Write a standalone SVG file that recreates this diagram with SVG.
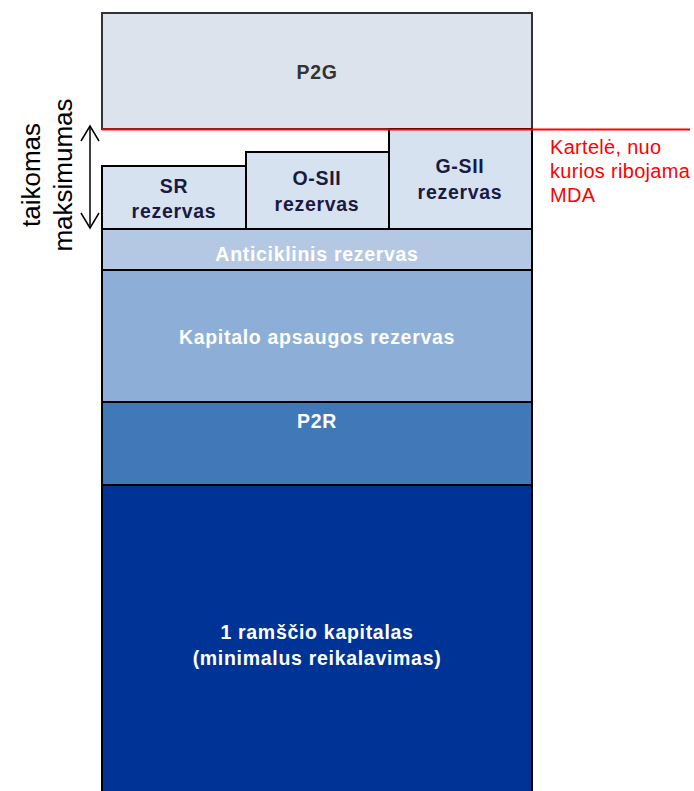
<svg xmlns="http://www.w3.org/2000/svg" width="694" height="791" viewBox="0 0 694 791">
<style>
.b{stroke:#000;stroke-width:2}
.t{font-family:"Liberation Sans",Arial,sans-serif;font-weight:bold;font-size:19.5px;letter-spacing:0.7px;text-anchor:middle}
.d{fill:#1a1a40}
.w{fill:#fff}
.r{font-family:"Liberation Sans",Arial,sans-serif;font-size:20px;letter-spacing:0.3px;fill:#ff0000}
.v{font-family:"Liberation Sans",Arial,sans-serif;font-size:26px;fill:#000;text-anchor:middle}
</style>
<defs>
<marker id="ah" viewBox="0 0 20 20" refX="18" refY="10" markerWidth="20" markerHeight="20" markerUnits="userSpaceOnUse" orient="auto-start-reverse">
<path d="M3,1 L18,10 L3,19" fill="none" stroke="#000" stroke-width="1.5"/>
</marker>
</defs>
<rect width="694" height="791" fill="#fff"/>
<g id="p2g"><rect x="102" y="13" width="430" height="116" fill="#dde3ec" stroke="#333" stroke-width="2"/><text class="t" x="317" y="79" fill="#333">P2G</text></g>
<g id="bottom"><rect x="102" y="485" width="430" height="310" fill="#003396" class="b"/><text class="t w" x="317" y="639">1 ramščio kapitalas</text><text class="t w" x="317" y="665">(minimalus reikalavimas)</text></g>
<g id="p2r"><rect x="102" y="402" width="430" height="83" fill="#4178b8" class="b"/><text class="t w" x="317" y="428">P2R</text></g>
<g id="kapitalo"><rect x="102" y="270" width="430" height="132" fill="#8daed6" class="b"/><text class="t w" x="317" y="344">Kapitalo apsaugos rezervas</text></g>
<g id="anticiklinis"><rect x="102" y="229" width="430" height="41" fill="#b4c8e4" class="b"/><text class="t w" x="317" y="261">Anticiklinis rezervas</text></g>
<g id="sr"><rect x="102" y="166" width="144" height="63" fill="#d7e2f0" class="b"/><text class="t d" x="174" y="193">SR</text><text class="t d" x="174" y="218">rezervas</text></g>
<g id="osii"><rect x="246" y="152" width="143" height="77" fill="#d7e2f0" class="b"/><text class="t d" x="317" y="185">O-SII</text><text class="t d" x="317" y="211">rezervas</text></g>
<g id="gsii"><rect x="389" y="129" width="143" height="100" fill="#d7e2f0" class="b"/><text class="t d" x="460" y="173">G-SII</text><text class="t d" x="460" y="199">rezervas</text></g>
<g id="connectors">
<line x1="102" y1="129.5" x2="690" y2="129.5" stroke="#ff0000" stroke-width="2"/>
<line x1="90" y1="126" x2="90" y2="228" stroke="#000" stroke-width="1.5" marker-start="url(#ah)" marker-end="url(#ah)"/>
</g>
<g id="label-mda"><text class="r" x="550" y="154">Kartelė,  nuo</text><text class="r" x="550" y="178">kurios ribojama</text><text class="r" x="550" y="202">MDA</text></g>
<g id="label-max"><text class="v" transform="translate(40,175) rotate(-90)">taikomas</text><text class="v" transform="translate(72,175) rotate(-90)">maksimumas</text></g>
</svg>
